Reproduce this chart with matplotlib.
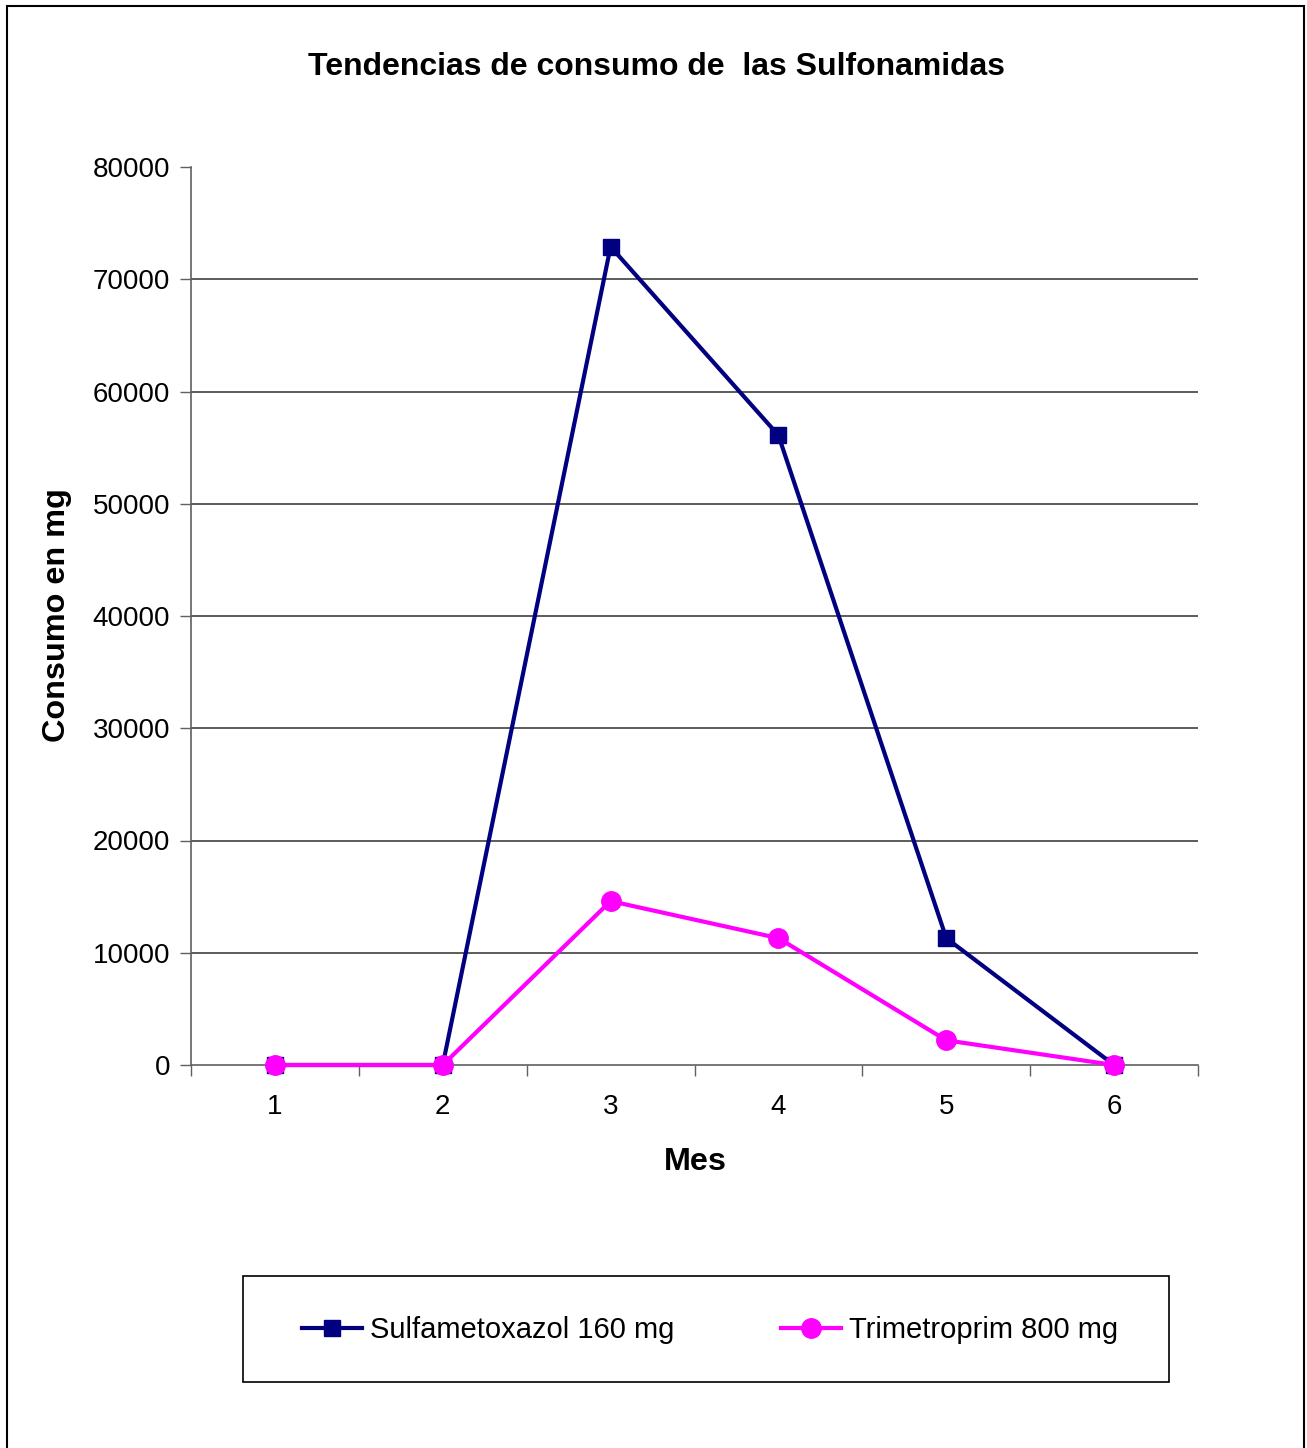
import matplotlib
matplotlib.use("Agg")
from matplotlib import pyplot as plt
from matplotlib.patches import Rectangle

# data
meses = [1, 2, 3, 4, 5, 6]
sulfametoxazol = [0, 0, 72900, 56100, 11300, 0]
trimetroprim = [0, 0, 14600, 11300, 2200, 0]
y_ticks = [0, 10000, 20000, 30000, 40000, 50000, 60000, 70000, 80000]

plt.rcParams['font.family'] = ['Liberation Sans', 'DejaVu Sans']

W, H = 1307, 1448
fig = plt.figure(figsize=(W / 100, H / 100), dpi=100)
ax = fig.add_axes([191 / W, 1 - 1065 / H, (1198 - 191) / W, (1065 - 167) / H])

ax.plot(meses, sulfametoxazol, color='#000080', lw=3, marker='s', ms=11.5,
        label='Sulfametoxazol 160 mg', clip_on=False, zorder=3)
ax.plot(meses, trimetroprim, color='#FF00FF', lw=3, marker='o', ms=14,
        label='Trimetroprim 800 mg', clip_on=False, zorder=4)

ax.set_xlim(0.5, 6.5)
ax.set_ylim(0, 80000)
ax.set_yticks(y_ticks)
ax.set_yticklabels([str(v) for v in y_ticks])
ax.set_xticks(meses)
ax.set_xticks([m + 0.5 for m in [0] + meses], minor=True)
ax.tick_params(axis='x', which='major', length=0, pad=21, labelsize=20)
ax.tick_params(axis='x', which='minor', length=8, width=1, color='#606060', direction='out')
ax.tick_params(axis='y', length=8, width=1, color='#606060', pad=7, labelsize=20)

for v in y_ticks[1:-1]:
    ax.axhline(v, color='#404040', lw=1.2, zorder=1)

for s in ['top', 'right']:
    ax.spines[s].set_visible(False)
for s in ['left', 'bottom']:
    ax.spines[s].set_color('#606060')
    ax.spines[s].set_linewidth(1.2)

fig.text(657 / W, 1 - 67 / H, 'Tendencias de consumo de  las Sulfonamidas',
         ha='center', va='center', fontsize=23, fontweight='bold')
fig.text(695 / W, 1 - 1162 / H, 'Mes', ha='center', va='center',
         fontsize=23.3, fontweight='bold')
fig.text(57 / W, 1 - 615 / H, 'Consumo en mg', ha='center', va='center',
         rotation=90, fontsize=23.3, fontweight='bold')

# legend box
fig.patches.append(Rectangle((243 / W, 1 - 1382 / H), (1169 - 243) / W, (1382 - 1276) / H,
                             transform=fig.transFigure, fill=False, edgecolor='black', lw=1.2))
fig.legend(loc='center', bbox_to_anchor=(710 / W, 1 - 1330 / H), ncol=2, frameon=False,
           fontsize=21, handlelength=2.05, handletextpad=0.28, columnspacing=3.67)

# outer border
fig.patches.append(Rectangle((7 / W, -0.01), (1304 - 7) / W, 1 - 6 / H + 0.01,
                             transform=fig.transFigure, fill=False, edgecolor='black', lw=1.5))

fig.savefig('out.png', dpi=100)
